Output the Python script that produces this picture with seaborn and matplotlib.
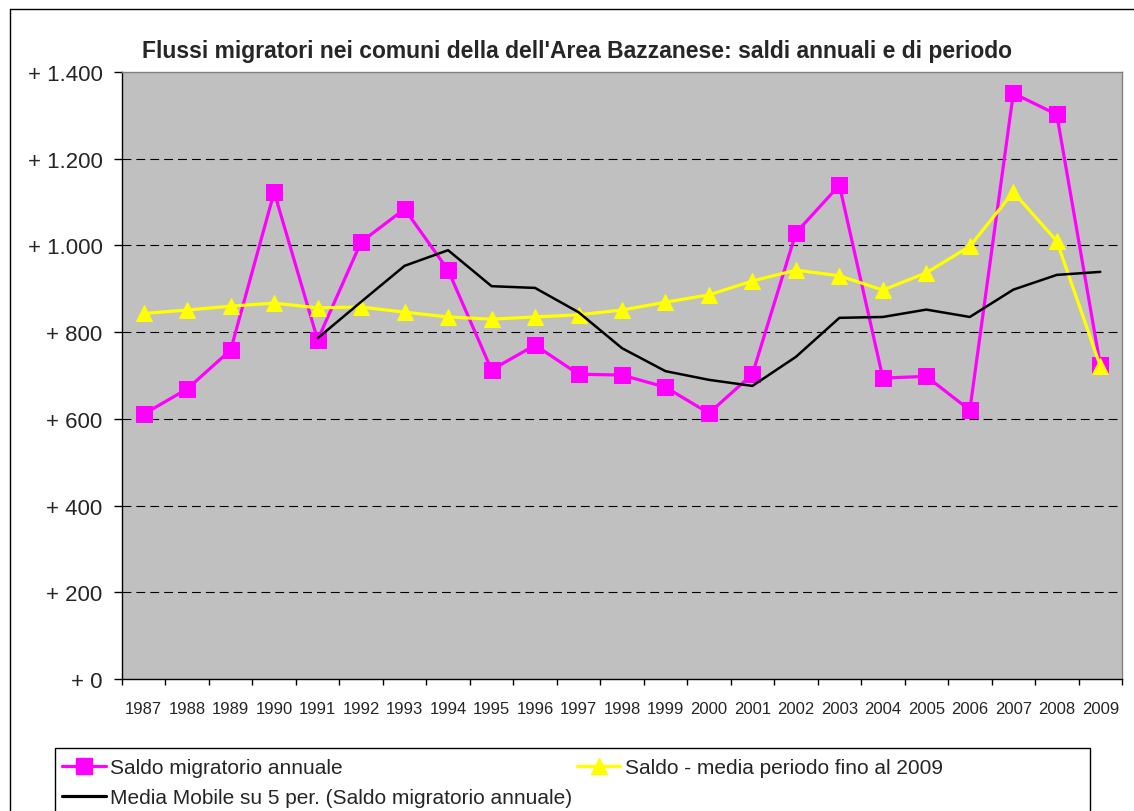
import pandas as pd
import matplotlib
matplotlib.use("Agg")
import matplotlib.pyplot as plt
from matplotlib.lines import Line2D
from matplotlib.patches import Rectangle
import seaborn as sb

# DATA
#----------------------------------------------------
years = list(range(1987, 2010))
saldo_annuale = [611, 669, 759, 1123, 782, 1008, 1084, 943, 713, 770, 703, 701,
                 673, 613, 703, 1029, 1139, 694, 698, 620, 1351, 1302, 724]
saldo_media = [843, 851, 860, 867, 856, 858, 846, 835, 830, 835, 840, 851,
               869, 886, 918, 943, 930, 897, 937, 998, 1123, 1010, 722]
mm_years = list(range(1991, 2010))
media_mobile = [786, 870, 953, 989, 906, 902, 846, 763, 710, 690, 676, 743,
                833, 835, 852, 835, 898, 932, 939]
y_ticks = [0, 200, 400, 600, 800, 1000, 1200, 1400]
y_tick_labels = ["+ 0", "+ 200", "+ 400", "+ 600", "+ 800", "+ 1.000", "+ 1.200", "+ 1.400"]
x_tick_labels = [str(y) for y in years]

TITLE = "Flussi migratori nei comuni della dell'Area Bazzanese: saldi annuali e di periodo"
LAB_ANN = "Saldo migratorio annuale"
LAB_MED = "Saldo - media periodo fino al 2009"
LAB_MM = "Media Mobile su 5 per. (Saldo migratorio annuale)"

MAGENTA = "#FF00FF"
YELLOW = "#FFFF00"

# PLOT
#----------------------------------------------------
sb.set_style("white")
plt.rcParams["font.family"] = ["Liberation Sans", "DejaVu Sans"]

W, H = 1134, 812
fig = plt.figure(figsize=(W / 100, H / 100), dpi=100)
ax = fig.add_axes([122 / W, 1 - 680 / H, 1000 / W, 607 / H])
ax.set_facecolor("#C0C0C0")

df_ann = pd.DataFrame({"anno": years, "saldo": saldo_annuale})
df_med = pd.DataFrame({"anno": years, "saldo": saldo_media})
df_mm = pd.DataFrame({"anno": mm_years, "saldo": media_mobile})

sb.lineplot(data=df_ann, x="anno", y="saldo", ax=ax, color=MAGENTA, lw=2.3,
            marker="s", markersize=11, markeredgecolor=MAGENTA, zorder=3)
sb.lineplot(data=df_med, x="anno", y="saldo", ax=ax, color=YELLOW, lw=2.3,
            marker="^", markersize=12, markeredgecolor=YELLOW, zorder=4)
sb.lineplot(data=df_mm, x="anno", y="saldo", ax=ax, color="black", lw=1.8, zorder=5)

ax.set_xlim(years[0] - 0.5, years[-1] + 0.5)
ax.set_ylim(y_ticks[0], y_ticks[-1])
ax.set_xlabel("")
ax.set_ylabel("")

ax.set_yticks(y_ticks)
ax.set_yticklabels(y_tick_labels, fontsize=16)
ax.tick_params(axis="y", direction="out", length=6, width=1, pad=8, color="black", left=True)

ax.set_xticks(years)
ax.set_xticklabels(x_tick_labels, fontsize=12)
ax.set_xticks([y - 0.5 for y in years] + [years[-1] + 0.5], minor=True)
ax.tick_params(axis="x", which="major", length=0, pad=16)
ax.tick_params(axis="x", which="minor", direction="out", length=4.5, width=1,
               color="black", bottom=True)

ax.yaxis.grid(True, color="black", linestyle=(0, (8, 4.5)), lw=0.8)
ax.xaxis.grid(False)
ax.set_axisbelow(True)
grid = ax.get_ygridlines()
grid[0].set_visible(False)
grid[-1].set_visible(False)

for side in ["left", "bottom"]:
    ax.spines[side].set_color("black")
    ax.spines[side].set_linewidth(1)
for side in ["top", "right"]:
    ax.spines[side].set_color("#808080")
    ax.spines[side].set_linewidth(1)

fig.text(577 / W, 1 - 58 / H, TITLE, ha="center", va="baseline",
         fontsize=16.5, fontweight="bold")

# outer chart border
fig.add_artist(Line2D([10 / W, 10 / W], [0, 1 - 10 / H], transform=fig.transFigure,
                      color="black", lw=1))
fig.add_artist(Line2D([10 / W, 1], [1 - 10 / H, 1 - 10 / H], transform=fig.transFigure,
                      color="black", lw=1))

# legend
h_ann = Line2D([], [], color=MAGENTA, lw=2.3, marker="s", markersize=11,
               markeredgecolor=MAGENTA, label=LAB_ANN)
h_med = Line2D([], [], color=YELLOW, lw=2.3, marker="^", markersize=12,
               markeredgecolor=YELLOW, label=LAB_MED)
h_mm = Line2D([], [], color="black", lw=2.3, label=LAB_MM)
leg = fig.legend(handles=[h_ann, h_mm, h_med], ncol=2, loc="upper left",
                 bbox_to_anchor=(52 / W, 1 - 749 / H),
                 fontsize=15, frameon=False, handlelength=2.1,
                 handletextpad=0.2, labelspacing=0.5, borderpad=0.5,
                 borderaxespad=0, columnspacing=0.2)
# legend box reaches past the bottom edge, as in the source chart
fig.add_artist(Rectangle((55 / W, -0.02), 1035 / W, (812 - 749) / H + 0.02,
                         transform=fig.transFigure, fill=False,
                         edgecolor="black", lw=1))

plt.savefig("out.png", dpi=100)
